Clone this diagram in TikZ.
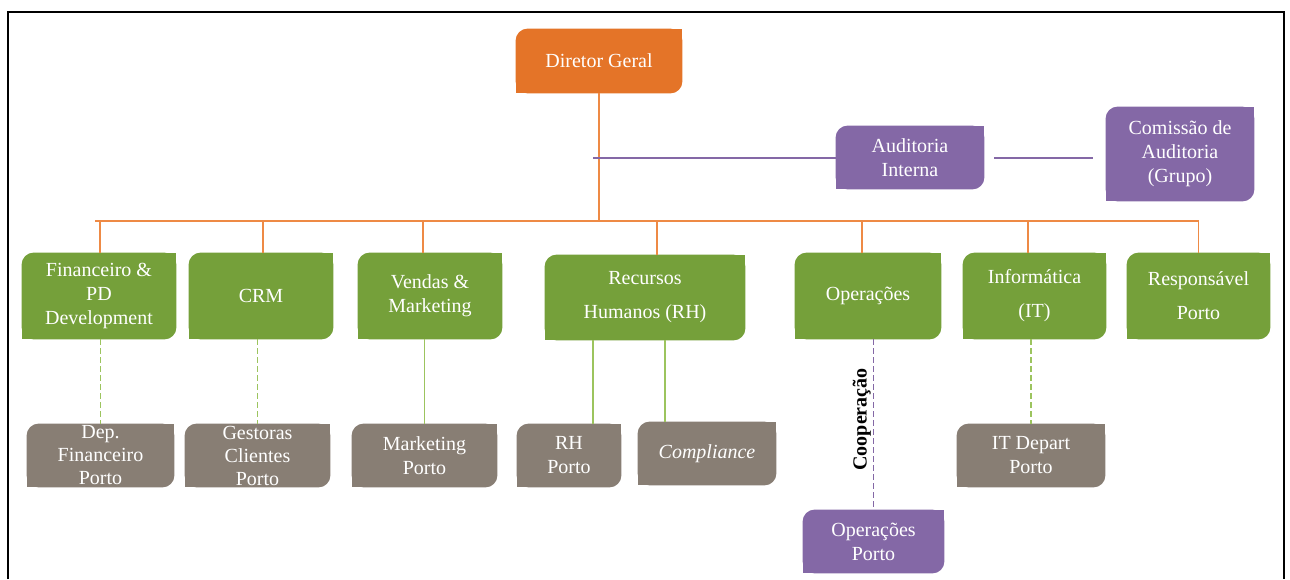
\documentclass[tikz,border=0pt]{standalone}
\usepackage{fontspec}
\setmainfont{Liberation Serif}
\usepackage{xcolor}
\usepackage{tikz}
\usetikzlibrary{positioning,calc,backgrounds}

\definecolor{bossorange}{HTML}{E47428}
\definecolor{treeorange}{HTML}{EE8A45}
\definecolor{deptgreen}{HTML}{75A03A}
\definecolor{linkgreen}{HTML}{9CC45E}
\definecolor{unitgrey}{HTML}{887E74}
\definecolor{auditpurple}{HTML}{8468A6}

\begin{document}
\begin{tikzpicture}[
    x=0.5pt, y=-0.5pt,
    tab/.style={inner sep=0pt, align=center, text=white, font=\normalsize},
    boss/.style={tab, minimum width=83pt, minimum height=32pt},
    dept/.style={tab, minimum width=72pt, minimum height=43pt},
    unit/.style={tab, minimum width=72.5pt, minimum height=31.5pt},
    audit/.style={tab, minimum width=74pt, minimum height=31.5pt},
    tree/.style={draw=treeorange, line width=0.8pt},
    link/.style={draw=linkgreen, line width=0.8pt},
    linkdash/.style={link, dash pattern=on 3pt off 1.5pt},
    coop/.style={draw=auditpurple, line width=0.7pt, dash pattern=on 3pt off 1.5pt},
    auditline/.style={draw=auditpurple, line width=1pt}
]
\useasboundingbox (0,0) rectangle (1290,579);

% Frame
\draw[line width=1.2pt] (8,579) -- (8,12) -- (1284,12) -- (1284,579);

% Top - Diretor Geral and audit
\node[boss] (dg) at (599,61) {Diretor Geral};
\node[audit] (ai) at (910,157.5) {Auditoria\\Interna};
\node[audit, minimum height=47pt] (cag) at (1180,154) {Comissão de\\Auditoria\\(Grupo)};

% Departments
\node[dept, minimum width=77pt] (fin) at (99,296) {Financeiro \&\\PD\\Development};
\node[dept] (crm) at (261,296) {CRM};
\node[dept] (ven) at (430,296) {Vendas \&\\Marketing};
\node[dept, minimum width=100pt, minimum height=42.5pt] (rh) at (645,297.5) {Recursos\\[5pt]Humanos (RH)};
\node[dept, minimum width=73pt] (ope) at (868,296) {Operações};
\node[dept, minimum width=71.5pt] (inf) at (1034.5,296) {Informática\\[5pt](IT)};
\node[dept, minimum width=71.5pt] (resp) at (1198.5,296) {Responsável\\[5pt]Porto};

% Porto units
\node[unit, minimum width=73.5pt] (depfin) at (100.5,455.5) {Dep.\\[-0.5pt]Financeiro\\[-0.5pt]Porto};
\node[unit] (gest) at (257.5,455.5) {Gestoras\\[-0.5pt]Clientes\\[-0.5pt]Porto};
\node[unit] (mkt) at (424.5,455.5) {Marketing\\Porto};
\node[unit, minimum width=52pt] (rhp) at (569,455.5) {RH\\Porto};
\node[unit, minimum width=69pt] (comp) at (707,453.5) {\textit{Compliance}};
\node[unit, minimum width=74pt] (itp) at (1031,455.5) {IT Depart\\Porto};
\node[audit, minimum width=70.5pt] (opp) at (873.5,541.5) {Operações\\Porto};

% Box fills: rounded top left and bottom right only
\begin{scope}[on background layer]
\foreach \n/\c in {dg/bossorange, ai/auditpurple, cag/auditpurple, opp/auditpurple,
    fin/deptgreen, crm/deptgreen, ven/deptgreen, rh/deptgreen, ope/deptgreen, inf/deptgreen, resp/deptgreen,
    depfin/unitgrey, gest/unitgrey, mkt/unitgrey, rhp/unitgrey, comp/unitgrey, itp/unitgrey} {
    \fill[\c, rounded corners=6pt] (\n.south west) rectangle (\n.north east);
    \fill[\c] (\n.north east) rectangle ($(\n.north east)+(-7pt,-7pt)$);
    \fill[\c] (\n.south west) rectangle ($(\n.south west)+(7pt,7pt)$);
}
\end{scope}

% Orange tree
\coordinate (bar) at (95,221);
\draw[tree] (dg.south) -- (dg.south |- bar);
\draw[tree] (bar) -- (resp.north |- bar);
\foreach \n/\dx in {fin/0.5pt, crm/1pt, ven/-3.5pt, rh/6pt, ope/-3pt, inf/-3.25pt, resp/0pt}
    \draw[tree] ([xshift=\dx]\n.north |- bar) -- ([xshift=\dx]\n.north);

% Audit lines
\draw[auditline] ([xshift=-3pt]dg.south |- ai.west) -- (ai.west);
\draw[auditline] ([xshift=5pt]ai.east) -- ([xshift=-6.5pt]cag.west |- ai.east);

% Links to Porto units
\draw[linkdash] (depfin.north |- fin.south) -- (depfin.north);
\draw[linkdash] (gest.north |- crm.south) -- (gest.north);
\draw[link] (mkt.north |- ven.south) -- (mkt.north);
\draw[link] ([xshift=12pt]rhp.north |- rh.south) -- ([xshift=12pt]rhp.north);
\draw[link] ([xshift=-21pt]comp.north |- rh.south) -- ([xshift=-21pt]comp.north);
\draw[coop] (opp.north |- ope.south) -- (opp.north)
    node[pos=0.47, rotate=90, anchor=south, inner sep=1pt, font=\bfseries] (coopl) {Cooperação};
\draw[linkdash] (itp.north |- inf.south) -- (itp.north);

\end{tikzpicture}
\end{document}
